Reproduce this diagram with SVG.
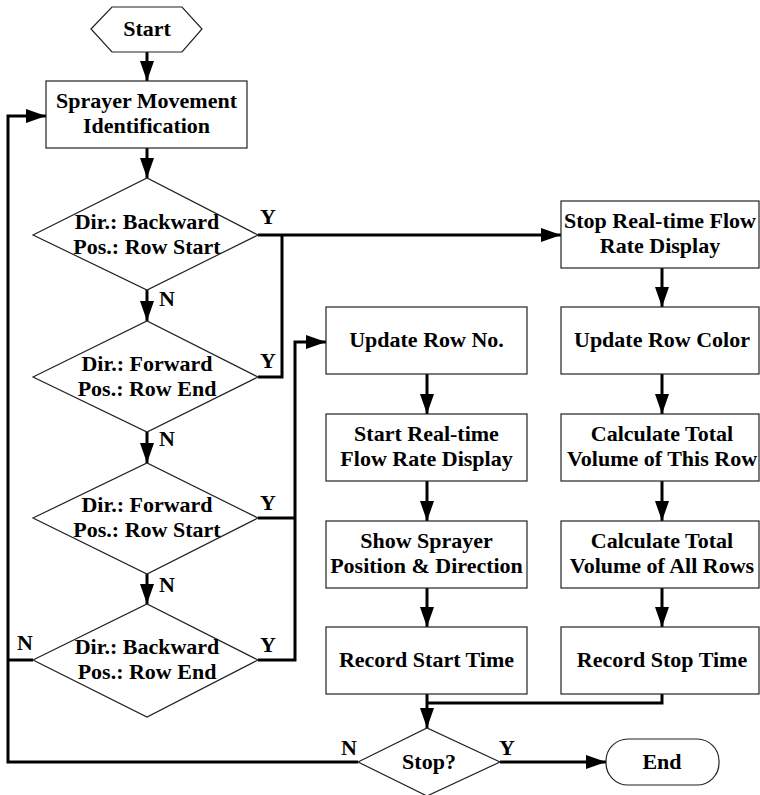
<svg xmlns="http://www.w3.org/2000/svg" width="760" height="795" viewBox="0 0 760 795">
<style>
.s{fill:#fff;stroke:#222;stroke-width:1.2}
.t{font-family:"Liberation Serif","Times New Roman",serif;font-weight:bold;font-size:22px;fill:#000;text-anchor:middle}
.c{fill:none;stroke:#000;stroke-width:3}
.a{marker-end:url(#ah)}
</style>
<defs>
<marker id="ah" markerUnits="userSpaceOnUse" markerWidth="20" markerHeight="14" refX="20" refY="7" orient="auto">
<path d="M0,0 L20,7 L0,14 z" fill="#000"/>
</marker>
</defs>
<rect width="760" height="795" fill="#fff"/>
<g id="connectors">
<path class="c a" d="M147,52 V81"/>
<path class="c a" d="M147,148 V178"/>
<path class="c a" d="M147,290 V321"/>
<path class="c a" d="M147,432 V463"/>
<path class="c a" d="M147,574 V604"/>
<path class="c a" d="M258,235 H561"/>
<path class="c" d="M258,377 H282 V235"/>
<path class="c a" d="M258,660 H295 V342 H326"/>
<path class="c" d="M258,518 H295"/>
<path class="c" d="M33,660 H8"/>
<path class="c a" d="M358,762 H8 V116 H46"/>
<path class="c a" d="M662,268 V307"/>
<path class="c a" d="M662,374 V414"/>
<path class="c a" d="M662,481 V521"/>
<path class="c a" d="M662,588 V627"/>
<path class="c a" d="M427,374 V414"/>
<path class="c a" d="M427,481 V521"/>
<path class="c a" d="M427,588 V627"/>
<path class="c a" d="M427,694 V728"/>
<path class="c" d="M662,694 V703 H427"/>
<path class="c a" d="M500,762 H606"/>
</g>
<g id="labels" class="t">
<text x="268" y="224">Y</text>
<text x="268" y="368">Y</text>
<text x="268" y="510">Y</text>
<text x="268" y="652">Y</text>
<text x="167" y="306">N</text>
<text x="167" y="446">N</text>
<text x="167" y="592">N</text>
<text x="25" y="650">N</text>
<text x="349" y="755">N</text>
<text x="507" y="755">Y</text>
</g>
<g id="start">
<polygon class="s" points="91,29 112,7 182,7 202,29 182,52 112,52"/>
<text class="t" x="147" y="36">Start</text>
</g>
<g id="sprayer">
<rect class="s" x="46" y="81" width="201" height="67"/>
<text class="t" x="146.5" y="108">Sprayer Movement</text>
<text class="t" x="146.5" y="133">Identification</text>
</g>
<g id="d1">
<polygon class="s" points="33,235 147,178 258,235 147,290"/>
<text class="t" x="147" y="229">Dir.: Backward</text>
<text class="t" x="147" y="254">Pos.: Row Start</text>
</g>
<g id="d2">
<polygon class="s" points="33,377 147,321 258,377 147,432"/>
<text class="t" x="147" y="371">Dir.: Forward</text>
<text class="t" x="147" y="396">Pos.: Row End</text>
</g>
<g id="d3">
<polygon class="s" points="33,518 147,463 258,518 147,574"/>
<text class="t" x="147" y="512">Dir.: Forward</text>
<text class="t" x="147" y="537">Pos.: Row Start</text>
</g>
<g id="d4">
<polygon class="s" points="33,660 147,604 258,660 147,717"/>
<text class="t" x="147" y="654">Dir.: Backward</text>
<text class="t" x="147" y="679">Pos.: Row End</text>
</g>
<g id="stopflow">
<rect class="s" x="561" y="201" width="198" height="67"/>
<text class="t" x="660" y="228">Stop Real-time Flow</text>
<text class="t" x="660" y="253">Rate Display</text>
</g>
<g id="rowno">
<rect class="s" x="326" y="307" width="201" height="67"/>
<text class="t" x="426.5" y="347">Update Row No.</text>
</g>
<g id="rowcolor">
<rect class="s" x="561" y="307" width="198" height="67"/>
<text class="t" x="662" y="347">Update Row Color</text>
</g>
<g id="startflow">
<rect class="s" x="326" y="414" width="201" height="67"/>
<text class="t" x="426.5" y="441">Start Real-time</text>
<text class="t" x="426.5" y="466">Flow Rate Display</text>
</g>
<g id="calcrow">
<rect class="s" x="561" y="414" width="198" height="67"/>
<text class="t" x="662" y="441">Calculate Total</text>
<text class="t" x="662" y="466">Volume of This Row</text>
</g>
<g id="showpos">
<rect class="s" x="326" y="521" width="201" height="67"/>
<text class="t" x="426.5" y="548">Show Sprayer</text>
<text class="t" x="426.5" y="573">Position &amp; Direction</text>
</g>
<g id="calcall">
<rect class="s" x="561" y="521" width="198" height="67"/>
<text class="t" x="662" y="548">Calculate Total</text>
<text class="t" x="662" y="573">Volume of All Rows</text>
</g>
<g id="recstart">
<rect class="s" x="326" y="627" width="201" height="67"/>
<text class="t" x="426.5" y="667">Record Start Time</text>
</g>
<g id="recstop">
<rect class="s" x="561" y="627" width="198" height="67"/>
<text class="t" x="662" y="667">Record Stop Time</text>
</g>
<g id="stopq">
<polygon class="s" points="358,762 427,728 500,762 427,796"/>
<text class="t" x="429" y="769">Stop?</text>
</g>
<g id="end">
<rect class="s" x="606" y="739" width="113" height="46" rx="22" ry="22"/>
<text class="t" x="662" y="769">End</text>
</g>
</svg>
